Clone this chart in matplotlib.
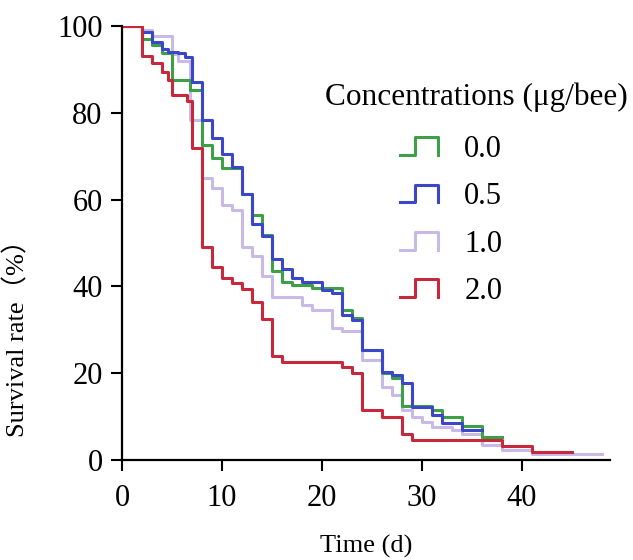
import numpy as np
import matplotlib
matplotlib.use('Agg')
import matplotlib.pyplot as plt
from matplotlib.legend_handler import HandlerBase
from matplotlib.lines import Line2D

plt.rcParams['font.family'] = ['Liberation Serif', 'Noto Sans CJK SC']

# 各浓度组的生存曲线（时间 d, 存活率 %），阶梯在该时刻下降
green_t = [0, 2, 3, 4, 5, 6.8, 8, 9, 10, 12, 13, 14, 15, 16, 17, 19, 22, 23, 24, 26, 27, 28, 31, 32, 34, 36, 38]
green_s = [100, 97.1, 95.6, 93.7, 87.6, 85.3, 72.6, 69.5, 67.2, 61.4, 56.5, 51.8, 43.5, 41.1, 40.3, 39.6,
           34.6, 32.7, 25.3, 20, 18.8, 12.5, 11.5, 10, 7.9, 5.2, 5.2]

blue_t = [0, 2, 3, 4, 4.6, 5.6, 6.3, 7, 8, 9, 10, 11, 12, 13, 14, 15, 16, 17, 18, 20, 21, 22, 23, 24, 26, 27,
          28, 29, 31, 32, 34, 36]
blue_s = [100, 98.7, 96.4, 94.8, 94.1, 93.7, 92.9, 87.2, 78.3, 74.3, 70.5, 67.4, 61.4, 54.3, 51.5, 46.4, 44.1,
          41.9, 41.1, 39.2, 38.4, 33.4, 32.3, 25.3, 20.3, 19.6, 17.7, 12.3, 10.4, 8.6, 7, 7]

lav_t = [0, 2, 3, 5, 5.6, 6.8, 8, 9, 10, 11, 12, 13, 14, 15, 18, 19, 21, 22, 24, 26, 27, 28, 29, 30, 31, 33,
         34, 36, 38, 41, 48]
lav_s = [100, 99, 97.8, 93.5, 92, 78.3, 65, 62.6, 58.8, 57.6, 49.1, 47, 42.3, 37.6, 35.7, 34.6, 30.3, 29.7,
         23, 16.9, 15, 11.5, 9.8, 8.8, 7.7, 7, 6.1, 3.5, 2.3, 1.4, 1.4]

red_t = [0, 2, 3, 4, 4.6, 5, 6.5, 7, 8, 9, 10, 11, 12, 13, 14, 15, 16, 22, 23, 24, 26, 28, 29, 38, 41, 45]
red_s = [100, 93, 91.5, 89.5, 87.6, 84, 82.8, 72, 49, 44.5, 42, 40.7, 39.5, 36.5, 32.5, 24, 22.5, 21.5, 20,
         11.5, 10, 6, 4.6, 3.3, 1.9, 1.9]

labels = ['0.0', '0.5', '1.0', '2.0']
colors = ['#3ca046', '#3c46c8', '#c8b9e6', '#c8283c']
x_ticks = [0, 10, 20, 30, 40]
y_ticks = [0, 20, 40, 60, 80, 100]


# 图例符号画成阶梯形
class StepHandler(HandlerBase):
    def create_artists(self, legend, orig_handle, xdescent, ydescent, width, height, fontsize, trans):
        xs = np.array([0, 0.38, 0.38, 1, 1]) * width - xdescent
        ys = np.array([0.0, 0.0, 1.0, 1.0, 0.0]) * height - ydescent
        line = Line2D(xs, ys, color=orig_handle.get_color(), lw=orig_handle.get_linewidth())
        line.set_transform(trans)
        return [line]


fig = plt.figure(figsize=(6.33, 5.6), dpi=100)
ax = fig.add_axes([122 / 633, 1 - 460 / 560, 488 / 633, 434 / 560])

series = [(lav_t, lav_s, 2), (green_t, green_s, 0), (blue_t, blue_s, 1), (red_t, red_s, 3)]
handles = [None] * 4
for t, s, k in series:
    ln, = ax.step(t, s, where='post', color=colors[k], lw=2.2, label=labels[k])
    handles[k] = ln

ax.set_xlim(0, 48.8)
ax.set_ylim(0, 100)
ax.set_xticks(x_ticks)
ax.set_yticks(y_ticks)
ax.spines['top'].set_visible(False)
ax.spines['right'].set_visible(False)
for sp in ['left', 'bottom']:
    ax.spines[sp].set_linewidth(1.6)
ax.tick_params(direction='out', length=8, width=1.5, labelsize=22, pad=6)
ax.tick_params(axis='x', pad=9)

ax.set_xlabel('Time (d)', fontsize=19, labelpad=16)
ax.set_ylabel('Survival rate（%）', fontsize=19)
ax.yaxis.set_label_coords(-0.19, 0.295)

leg = ax.legend(handles=handles, labels=labels, handler_map={Line2D: StepHandler()},
                loc='upper left', bbox_to_anchor=(400 / 633, 1 - 135 / 560), bbox_transform=fig.transFigure,
                frameon=False, fontsize=22, handlelength=1.25, handleheight=0.5, handletextpad=0.85,
                labelspacing=0.6, borderpad=0, borderaxespad=0)

fig.text(476 / 633, 1 - 97 / 560, 'Concentrations (μg/bee)', fontsize=22.5, ha='center', va='center')

fig.savefig('out.png', dpi=100)
